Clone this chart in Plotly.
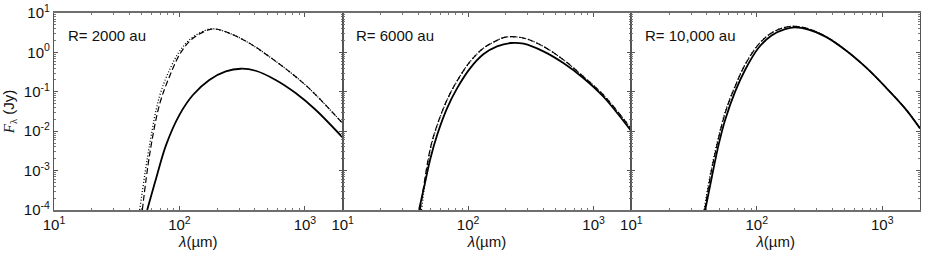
import plotly.graph_objects as go
from plotly.subplots import make_subplots

# ---- data ----
panel_labels = ["R= 2000 au", "R= 6000 au", "R= 10,000 au"]

# R = 2000 au
lam_2000_solid = [55.3, 65.3, 78.3, 100, 128, 173, 234, 308, 405, 585, 843, 1216, 2000]
F_2000_solid = [1.0e-4, 6.5e-4, 4.5e-3, 0.026, 0.083, 0.20, 0.33, 0.385, 0.342, 0.20, 0.093, 0.035, 0.0069]
lam_2000_dash = [50.6, 57.8, 69.3, 83.3, 100, 120, 144, 173, 195, 249, 359, 518, 747, 1076, 2000]
F_2000_dash = [1e-4, 2.5e-3, 0.047, 0.245, 0.87, 1.9, 2.92, 3.77, 3.92, 3.09, 1.73, 0.79, 0.33, 0.124, 0.0158]
lam_2000_dot = [48.2, 57.8, 69.3, 83.3, 100, 120, 144, 180, 249, 359, 518, 747, 1076, 2000]
F_2000_dot = [1e-4, 4.5e-3, 0.076, 0.36, 1.06, 2.09, 3.09, 3.98, 3.09, 1.73, 0.79, 0.33, 0.124, 0.0158]

# R = 6000 au
lam_6000_solid = [40.6, 45, 50, 56.7, 68, 81.8, 104, 133, 170, 217, 277, 398, 574, 828, 1194, 2000]
F_6000_solid = [1e-4, 4.4e-4, 2.0e-3, 8.1e-3, 0.0385, 0.124, 0.40, 0.908, 1.42, 1.73, 1.66, 1.06, 0.537, 0.224, 0.076, 0.010]
lam_6000_dash = [41.5, 50, 56.7, 68, 81.8, 104, 133, 170, 200, 277, 398, 574, 828, 1194, 2000]
F_6000_dash = [1e-4, 3.7e-3, 0.0145, 0.063, 0.19, 0.59, 1.29, 2.02, 2.45, 2.31, 1.42, 0.652, 0.245, 0.084, 0.0115]
lam_6000_dot = [42.5, 50, 56.7, 68, 81.8, 104, 133, 170, 200, 277, 398, 574, 828, 1194, 2000]
F_6000_dot = [1e-4, 3.4e-3, 0.014, 0.062, 0.19, 0.59, 1.29, 2.02, 2.45, 2.31, 1.42, 0.652, 0.245, 0.084, 0.0115]

# R = 10,000 au
lam_10000_solid = [38.8, 43.9, 49.6, 56, 67.3, 80.8, 103, 131, 168, 202, 258, 350, 505, 728, 1050, 1514, 2000]
F_10000_solid = [1e-4, 7.1e-4, 4.5e-3, 0.0195, 0.102, 0.363, 1.29, 2.70, 3.92, 4.32, 3.77, 2.55, 1.17, 0.44, 0.137, 0.0385, 0.0118]
lam_10000_dash = [38.5, 43.9, 56, 67.3, 80.8, 103, 131, 168, 202, 258, 350, 505, 728, 1050, 1514, 2000]
F_10000_dash = [1e-4, 1.15e-3, 0.029, 0.138, 0.49, 1.57, 3.09, 4.32, 4.57, 3.98, 2.60, 1.17, 0.44, 0.137, 0.0385, 0.0118]
lam_10000_dot = [38.0, 43.9, 56, 67.3, 80.8, 103, 131, 168, 202, 258, 350, 505, 728, 1050, 1514, 2000]
F_10000_dot = [1e-4, 1.3e-3, 0.031, 0.142, 0.50, 1.60, 3.12, 4.35, 4.60, 3.98, 2.60, 1.17, 0.44, 0.137, 0.0385, 0.0118]

x_tickvals = [10, 100, 1000]
x_ticktext = ["10<sup>1</sup>", "10<sup>2</sup>", "10<sup>3</sup>"]
y_tickvals = [1e-4, 1e-3, 1e-2, 1e-1, 1, 10]
y_ticktext = ["10<sup>-4</sup>", "10<sup>-3</sup>", "10<sup>-2</sup>", "10<sup>-1</sup>", "10<sup>0</sup>", "10<sup>1</sup>"]

panels = [
    [(lam_2000_solid, F_2000_solid), (lam_2000_dash, F_2000_dash), (lam_2000_dot, F_2000_dot)],
    [(lam_6000_solid, F_6000_solid), (lam_6000_dash, F_6000_dash), (lam_6000_dot, F_6000_dot)],
    [(lam_10000_solid, F_10000_solid), (lam_10000_dash, F_10000_dash), (lam_10000_dot, F_10000_dot)],
]
styles = [dict(dash="solid", width=1.8), dict(dash="6px,3px", width=1.2), dict(dash="1px,2px", width=1.3)]

FONT = "Liberation Sans, Arial, sans-serif"
AX = "#6e6e6e"

fig = make_subplots(rows=1, cols=3, shared_yaxes=True, horizontal_spacing=0)

for c, series in enumerate(panels, start=1):
    for (lam, F), st in zip(series, styles):
        fig.add_trace(go.Scatter(x=lam, y=F, mode="lines", line_shape="spline",
                                 line=dict(color="black", **st), showlegend=False,
                                 hoverinfo="skip"), row=1, col=c)
    fig.update_xaxes(type="log", range=[1, 3.30103], tickvals=x_tickvals, ticktext=x_ticktext,
                     ticks="inside", ticklen=4, tickcolor="#555", tickwidth=1,
                     minor=dict(ticks="inside", ticklen=2, tickcolor="#777", tickwidth=1, dtick="D1", showgrid=False),
                     showline=True, linecolor=AX, linewidth=2, mirror="ticks",
                     showgrid=False, zeroline=False, automargin=False, ticklabeloverflow="allow",
                     title=dict(text="<i>λ</i>(µm)", standoff=4,
                                font=dict(family=FONT, size=15, color="#111")),
                     tickfont=dict(family=FONT, size=15, color="#111"),
                     row=1, col=c)
    fig.update_yaxes(type="log", range=[-4, 1], tickvals=y_tickvals, ticktext=y_ticktext,
                     ticks="inside", ticklen=4, tickcolor="#555", tickwidth=1,
                     minor=dict(ticks="inside", ticklen=2, tickcolor="#777", tickwidth=1, dtick="D1", showgrid=False),
                     showline=True, linecolor="#555", linewidth=1.2, mirror="ticks",
                     showgrid=False, zeroline=False, automargin=False, ticklabeloverflow="allow",
                     tickfont=dict(family=FONT, size=15, color="#111"),
                     row=1, col=c)
    xref = "x" if c == 1 else f"x{c}"
    fig.add_annotation(text=panel_labels[c - 1], xref=f"{xref} domain", yref="y domain",
                       x=0.04, y=0.885, xanchor="left", yanchor="middle", showarrow=False,
                       font=dict(family=FONT, size=15, color="#111"))

fig.update_yaxes(title=dict(text="<i>F</i><sub>λ</sub><span style=\"font-family:Liberation Sans, Arial, sans-serif\"> (Jy)</span>",
                            standoff=8,
                            font=dict(family="Liberation Serif, Times New Roman, serif", size=15, color="#111")),
                 row=1, col=1)

fig.update_layout(width=926, height=256, margin=dict(l=54, r=6, t=13, b=46, autoexpand=False),
                  plot_bgcolor="white", paper_bgcolor="white",
                  font=dict(family=FONT, color="#111"))

# remove the browser's default 8px body margin so the figure fills the window exactly
fig.write_html("out.html", config={"displayModeBar": False},
               post_script="document.body.style.margin='0';document.body.style.overflow='hidden';")
